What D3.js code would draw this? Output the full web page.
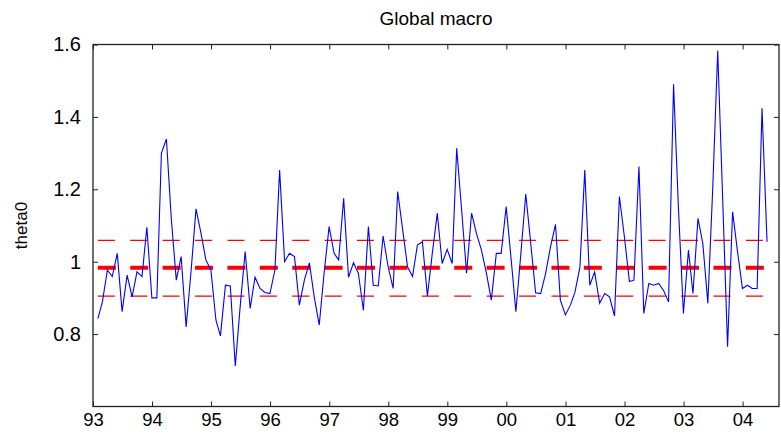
<!DOCTYPE html>
<html>
<head>
<meta charset="utf-8">
<script src="https://cdn.jsdelivr.net/npm/d3@7"></script>
<style>
  html, body { margin: 0; padding: 0; background: #fff; overflow: hidden; }
  svg { display: block; }
  text { font-family: "Liberation Sans", Arial, sans-serif; fill: #000; }
  .axis line { stroke: #222; }
  .axis path { display: none; }
</style>
</head>
<body>
<div id="chart"></div>
<script>
// monthly theta0 estimates, Jan 1993 .. May 2004
const theta0 = [
  0.843, 0.889, 0.977, 0.959, 1.023, 0.862, 0.963, 0.903, 0.972, 0.959, 1.095, 0.900,
  0.900, 1.300, 1.339, 1.120, 0.949, 1.014, 0.820, 0.977, 1.146, 1.078, 1.005, 0.977,
  0.839, 0.795, 0.935, 0.933, 0.712, 0.876, 1.028, 0.871, 0.957, 0.926, 0.915, 0.912,
  0.977, 1.253, 1.000, 1.023, 1.014, 0.880, 0.949, 0.997, 0.903, 0.825, 0.968, 1.097,
  1.023, 1.005, 1.175, 0.957, 0.997, 0.968, 0.866, 1.097, 0.935, 0.933, 1.071, 0.986,
  0.926, 1.194, 1.088, 0.986, 0.959, 1.046, 1.055, 0.905, 1.023, 1.134, 0.995, 1.034,
  0.995, 1.313, 1.140, 0.968, 1.134, 1.078, 1.032, 0.968, 0.894, 1.023, 1.023, 1.152,
  1.005, 0.862, 1.023, 1.187, 1.050, 0.914, 0.912, 0.968, 1.041, 1.103, 0.894, 0.853,
  0.880, 0.915, 0.985, 1.253, 0.935, 0.972, 0.885, 0.912, 0.903, 0.850, 1.180, 1.069,
  0.945, 0.949, 1.263, 0.857, 0.940, 0.935, 0.940, 0.920, 0.889, 1.490, 1.150, 0.857,
  1.032, 0.912, 1.120, 1.050, 0.885, 1.200, 1.583, 1.170, 0.765, 1.138, 1.030, 0.926,
  0.935, 0.926, 0.926, 1.424, 1.055
];

// horizontal reference levels
const meanLevel = 0.983;
const bandLevels = [1.059, 0.905];

// axis ticks
const yearTicks = [1993, 1994, 1995, 1996, 1997, 1998, 1999, 2000, 2001, 2002, 2003, 2004];
const yearLabels = ["93", "94", "95", "96", "97", "98", "99", "00", "01", "02", "03", "04"];
const yTicks = [0.8, 1, 1.2, 1.4, 1.6];

// end-of-month dates for each observation
const dates = theta0.map((v, i) => new Date(1993, i + 1, 0));
const data = theta0.map((v, i) => ({date: dates[i], value: v}));

const width = 781;
const height = 435;
const margin = {top: 44.5, right: 2, bottom: 28.5, left: 93};
const innerWidth = width - margin.left - margin.right;
const innerHeight = height - margin.top - margin.bottom;

const svg = d3.select("#chart")
  .append("svg")
    .attr("width", width)
    .attr("height", height)
  .append("g")
    .attr("transform", `translate(${margin.left}, ${margin.top})`);

const x = d3.scaleTime()
  .domain([new Date(1993, 0, 1), new Date(2004, 7, 13)])
  .range([0, innerWidth]);

const y = d3.scaleLinear()
  .domain([0.6, 1.6])
  .range([innerHeight, 0]);

// axes, ticks pointing inward like matlab
svg.append("g")
  .attr("class", "axis")
  .attr("transform", `translate(0, ${innerHeight})`)
  .call(d3.axisBottom(x)
    .tickValues(yearTicks.map(yr => new Date(yr, 0, 1)))
    .tickFormat((d, i) => yearLabels[i])
    .tickSize(-5))
  .selectAll("text")
    .attr("y", 19)
    .attr("dy", null)
    .style("font-size", "18.5px");

svg.append("g")
  .attr("class", "axis")
  .call(d3.axisTop(x)
    .tickValues(yearTicks.map(yr => new Date(yr, 0, 1)))
    .tickFormat("")
    .tickSize(-5));

svg.append("g")
  .attr("class", "axis")
  .call(d3.axisLeft(y)
    .tickValues(yTicks)
    .tickFormat(d => String(+d.toFixed(1)))
    .tickSize(-5)
    .tickPadding(12))
  .selectAll("text")
    .style("font-size", "20px");

svg.append("g")
  .attr("class", "axis")
  .attr("transform", `translate(${innerWidth}, 0)`)
  .call(d3.axisRight(y)
    .tickValues(yTicks)
    .tickFormat("")
    .tickSize(-5));

// box
svg.append("rect")
  .attr("width", innerWidth)
  .attr("height", innerHeight)
  .attr("fill", "none")
  .attr("stroke", "#222")
  .attr("stroke-width", 1.3);

const xStart = x(dates[0]);
const xEnd = x(dates[dates.length - 1]);

// band lines
svg.selectAll(".band")
  .data(bandLevels)
  .enter()
  .append("line")
    .attr("x1", xStart)
    .attr("x2", xEnd)
    .attr("y1", d => y(d))
    .attr("y2", d => y(d))
    .attr("stroke", "#ff0000")
    .attr("stroke-width", 1.2)
    .attr("stroke-dasharray", "17,15.4");

// mean line
svg.append("line")
  .attr("x1", xStart)
  .attr("x2", xEnd)
  .attr("y1", y(meanLevel))
  .attr("y2", y(meanLevel))
  .attr("stroke", "#ff0000")
  .attr("stroke-width", 4)
  .attr("stroke-dasharray", "18,14.4");

// theta0 series
const line = d3.line()
  .x(d => x(d.date))
  .y(d => y(d.value));

svg.append("path")
  .datum(data)
  .attr("d", line)
  .attr("fill", "none")
  .attr("stroke", "#0000ff")
  .attr("stroke-width", 1.1);

// title and y label
svg.append("text")
  .attr("x", innerWidth / 2)
  .attr("y", -20)
  .attr("text-anchor", "middle")
  .style("font-size", "19px")
  .text("Global macro");

svg.append("text")
  .attr("transform", "rotate(-90)")
  .attr("x", -innerHeight / 2)
  .attr("y", -66)
  .attr("text-anchor", "middle")
  .style("font-size", "17px")
  .text("theta0");
</script>
</body>
</html>
